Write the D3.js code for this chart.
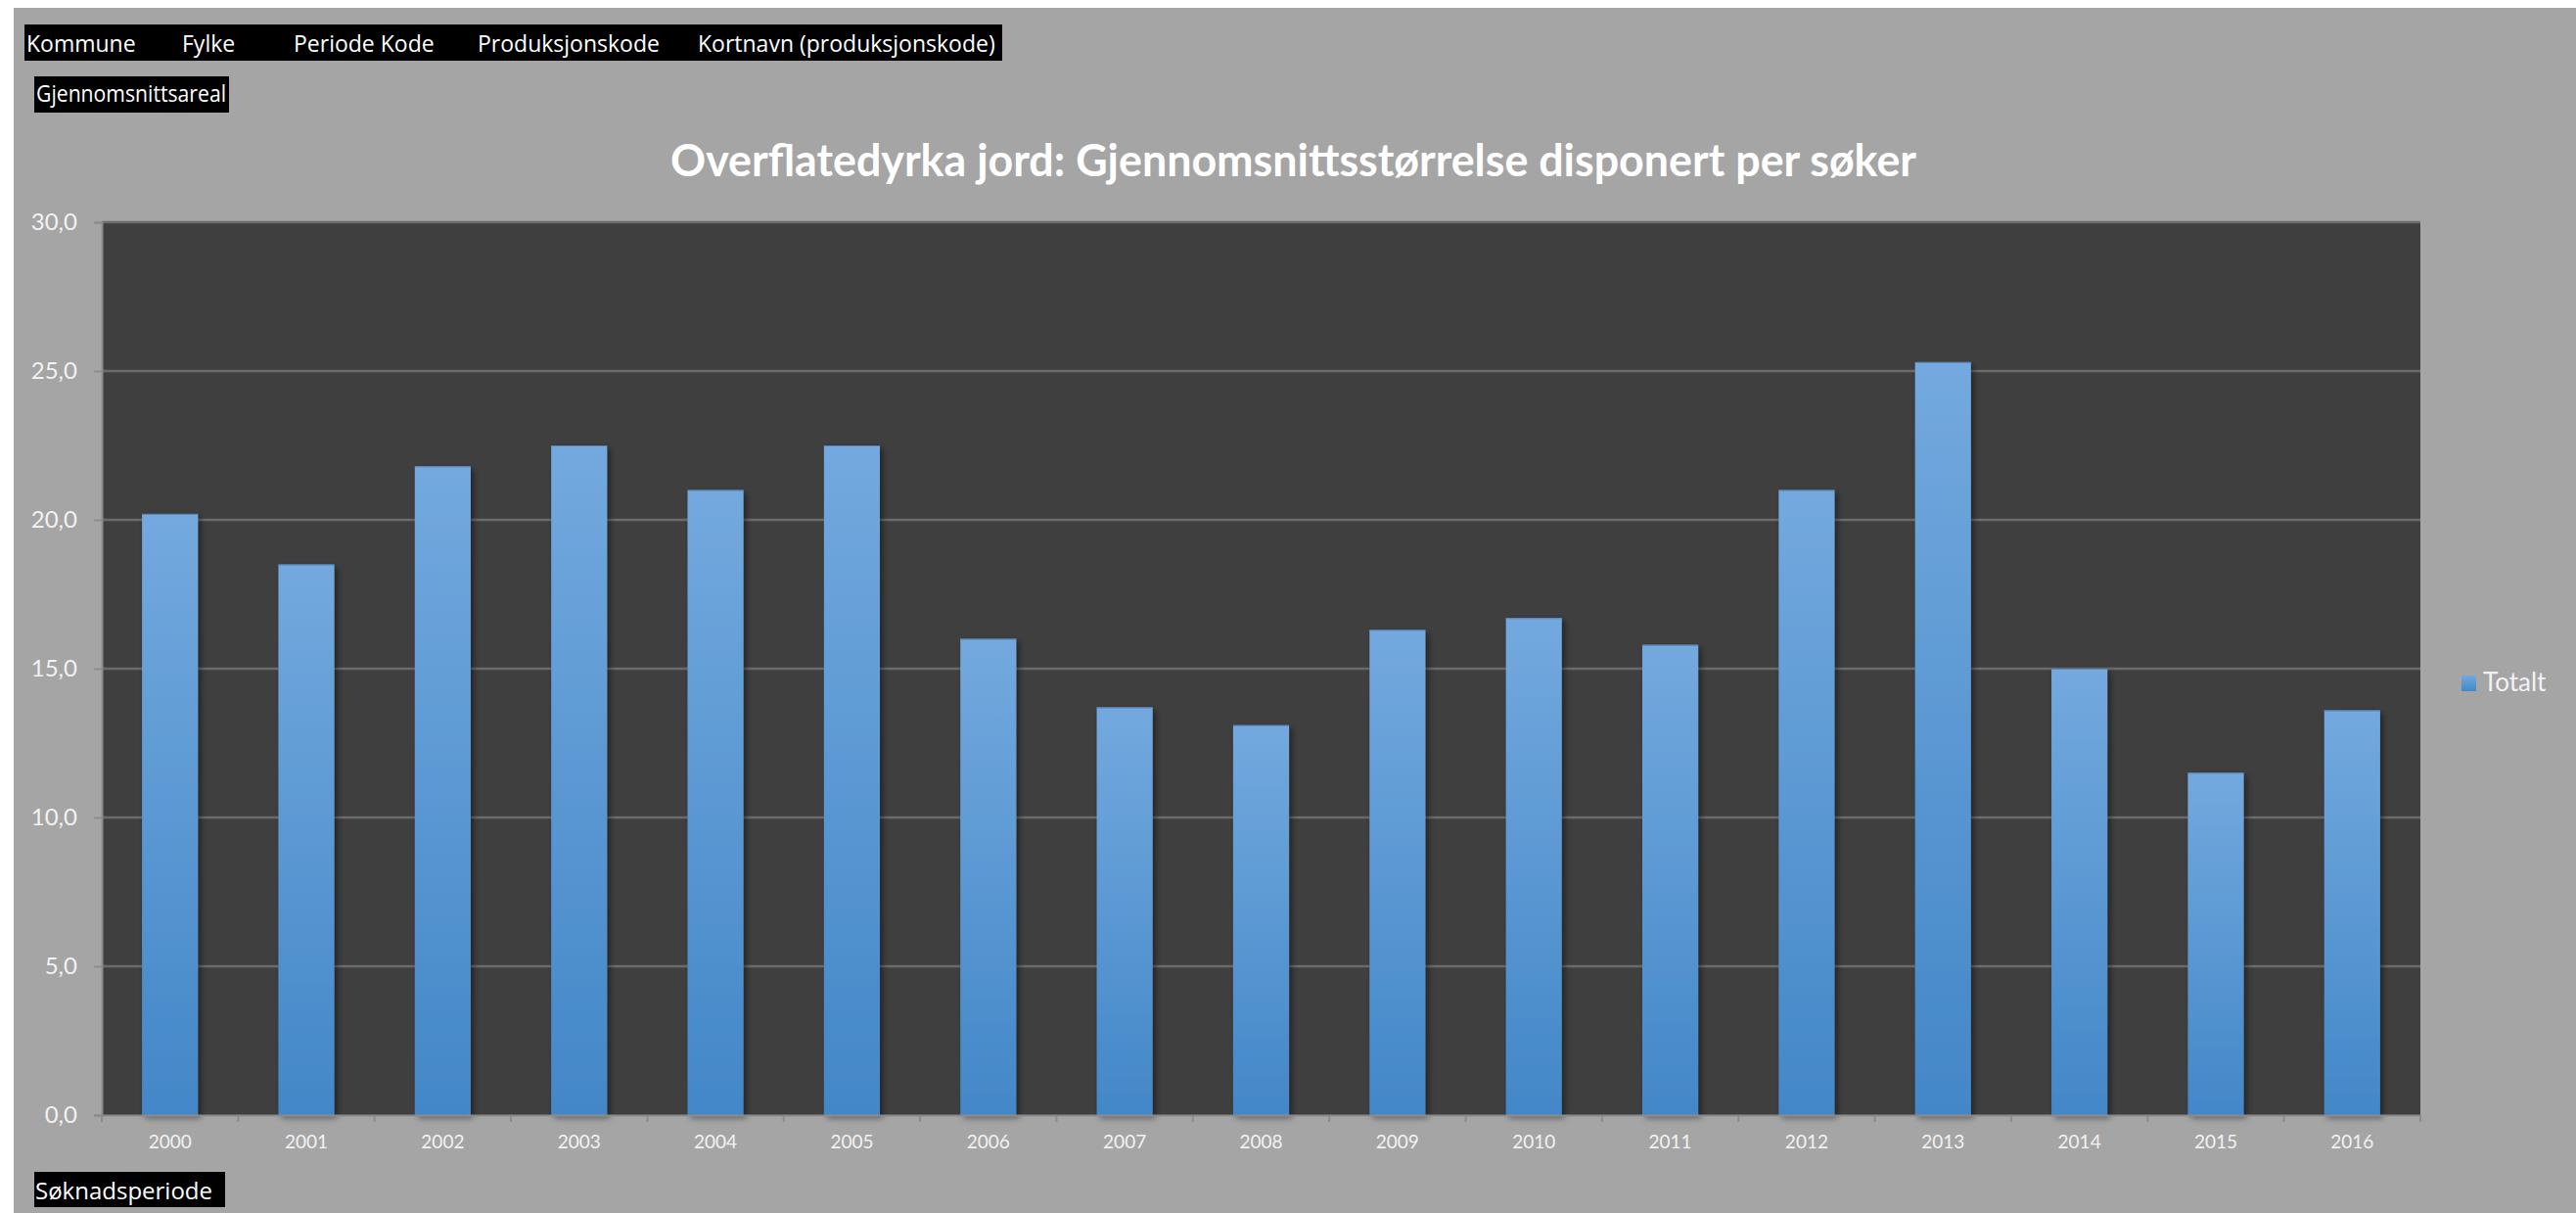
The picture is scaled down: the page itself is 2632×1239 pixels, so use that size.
<!DOCTYPE html>
<html>
<head>
<meta charset="utf-8">
<script src="https://cdn.jsdelivr.net/npm/d3@7"></script>
<style>
  html, body { margin: 0; padding: 0; background: #ffffff; }
  svg { display: block; }
</style>
</head>
<body>
<svg id="chart" width="2632" height="1239"></svg>
<script>
// Data
const years = ['2000', '2001', '2002', '2003', '2004', '2005', '2006', '2007', '2008',
  '2009', '2010', '2011', '2012', '2013', '2014', '2015', '2016'];
const totalt = [20.2, 18.5, 21.8, 22.5, 21.0, 22.5, 16.0, 13.7, 13.1,
  16.3, 16.7, 15.8, 21.0, 25.3, 15.0, 11.5, 13.6];
const yTicks = [0, 5, 10, 15, 20, 25, 30];
const filterFields = [
  { label: 'Kommune', x: 27 },
  { label: 'Fylke', x: 186 },
  { label: 'Periode Kode', x: 300 },
  { label: 'Produksjonskode', x: 488 },
  { label: 'Kortnavn (produksjonskode)', x: 713 }
];

const svg = d3.select('#chart');
const W = 2632, H = 1239;
const plot = { left: 104, right: 2473, top: 227, bottom: 1139 };
const chartFont = 'Lato, "Open Sans", sans-serif';
const fieldFont = '"Open Sans", "Noto Sans", sans-serif';

// Background (white edge top/left like the screenshot)
svg.append('rect').attr('width', W).attr('height', H).attr('fill', '#ffffff');
svg.append('rect').attr('x', 14).attr('y', 8).attr('width', W - 14).attr('height', H - 8)
  .attr('fill', '#a5a5a5');

const defs = svg.append('defs');
const grad = defs.append('linearGradient')
  .attr('id', 'barGrad').attr('x1', 0).attr('y1', 0).attr('x2', 0).attr('y2', 1);
grad.append('stop').attr('offset', '0%').attr('stop-color', '#73a9de');
grad.append('stop').attr('offset', '100%').attr('stop-color', '#4387c8');

const shadow = defs.append('filter').attr('id', 'barShadow')
  .attr('x', '-20%').attr('y', '-5%').attr('width', '150%').attr('height', '115%');
shadow.append('feDropShadow')
  .attr('dx', 3).attr('dy', 3).attr('stdDeviation', 3)
  .attr('flood-color', '#000000').attr('flood-opacity', 0.45);

// Field buttons
svg.append('rect').attr('x', 25).attr('y', 25).attr('width', 999).attr('height', 37)
  .attr('fill', '#000000');
svg.selectAll('.field')
  .data(filterFields)
  .enter().append('text')
  .attr('class', 'field')
  .attr('x', d => d.x)
  .attr('y', 53)
  .attr('fill', '#ffffff')
  .style('font-family', fieldFont)
  .style('font-size', '23px')
  .text(d => d.label);

svg.append('rect').attr('x', 35).attr('y', 78).attr('width', 199).attr('height', 37)
  .attr('fill', '#000000');
svg.append('text').attr('x', 37).attr('y', 104)
  .attr('fill', '#ffffff')
  .style('font-family', fieldFont).style('font-size', '23px')
  .attr('textLength', 194).attr('lengthAdjust', 'spacingAndGlyphs')
  .text('Gjennomsnittsareal');

// Title
svg.append('text')
  .attr('x', 685).attr('y', 180)
  .attr('fill', '#ffffff')
  .style('font-family', chartFont)
  .style('font-size', '45px')
  .style('font-weight', 'bold')
  .attr('textLength', 1273).attr('lengthAdjust', 'spacingAndGlyphs')
  .text('Overflatedyrka jord: Gjennomsnittsstørrelse disponert per søker');

// Scales
const x = d3.scaleBand()
  .domain(years)
  .range([plot.left, plot.right])
  .paddingInner(0.59)
  .paddingOuter(0.295);

const y = d3.scaleLinear()
  .domain([0, 30])
  .range([plot.bottom, plot.top]);

// Plot area
svg.append('rect')
  .attr('x', plot.left).attr('y', plot.top)
  .attr('width', plot.right - plot.left).attr('height', plot.bottom - plot.top)
  .attr('fill', '#3f3f3f');

// Gridlines
svg.append('g')
  .selectAll('line')
  .data(yTicks.filter(t => t > 0))
  .enter().append('line')
  .attr('x1', plot.left).attr('x2', plot.right)
  .attr('y1', d => y(d)).attr('y2', d => y(d))
  .attr('stroke', '#6b6b6b')
  .attr('stroke-width', 2.5);

// Bars
svg.append('g')
  .selectAll('rect')
  .data(years)
  .enter().append('rect')
  .attr('x', d => x(d))
  .attr('y', (d, i) => y(totalt[i]))
  .attr('width', x.bandwidth())
  .attr('height', (d, i) => y(0) - y(totalt[i]))
  .attr('fill', 'url(#barGrad)')
  .attr('filter', 'url(#barShadow)');

// thin darker edge on bar tops
svg.append('g')
  .selectAll('line')
  .data(years)
  .enter().append('line')
  .attr('x1', d => x(d)).attr('x2', d => x(d) + x.bandwidth())
  .attr('y1', (d, i) => y(totalt[i]) + 0.5).attr('y2', (d, i) => y(totalt[i]) + 0.5)
  .attr('stroke', '#5a88b8').attr('stroke-width', 1);

// Y axis
const yAxis = svg.append('g')
  .attr('transform', `translate(${plot.left},0)`)
  .call(d3.axisLeft(y)
    .tickValues(yTicks)
    .tickSize(8)
    .tickPadding(17)
    .tickFormat(d => d3.format('.1f')(d).replace('.', ',')));
yAxis.select('.domain').attr('stroke', '#8c8c8c').attr('stroke-width', 2);
yAxis.selectAll('.tick line').attr('stroke', '#8c8c8c').attr('stroke-width', 2);
yAxis.selectAll('.tick text')
  .attr('fill', '#f2f2f2')
  .style('font-family', chartFont)
  .style('font-size', '24px');

// X axis: ticks sit between the categories
const xAxis = svg.append('g')
  .attr('transform', `translate(0,${plot.bottom})`)
  .call(d3.axisBottom(x).tickSize(0).tickPadding(21));
xAxis.select('.domain').attr('stroke', '#8c8c8c').attr('stroke-width', 2);
xAxis.selectAll('.tick text')
  .attr('fill', '#f2f2f2')
  .style('font-family', chartFont)
  .style('font-size', '19px');
const step = x.step();
xAxis.append('g')
  .selectAll('line')
  .data(d3.range(years.length + 1))
  .enter().append('line')
  .attr('x1', i => plot.left + i * step).attr('x2', i => plot.left + i * step)
  .attr('y1', 0).attr('y2', 7)
  .attr('stroke', '#8c8c8c').attr('stroke-width', 2);

// Legend
svg.append('rect')
  .attr('x', 2515).attr('y', 690).attr('width', 15).attr('height', 16)
  .attr('fill', 'url(#barGrad)');
svg.append('text')
  .attr('x', 2537).attr('y', 706)
  .attr('fill', '#f2f2f2')
  .style('font-family', chartFont)
  .style('font-size', '26px')
  .text('Totalt');

// Axis field button
svg.append('rect').attr('x', 35).attr('y', 1197).attr('width', 195).attr('height', 36)
  .attr('fill', '#000000');
svg.append('text').attr('x', 36).attr('y', 1225)
  .attr('fill', '#ffffff')
  .style('font-family', fieldFont).style('font-size', '24px')
  .text('Søknadsperiode');
</script>
</body>
</html>
